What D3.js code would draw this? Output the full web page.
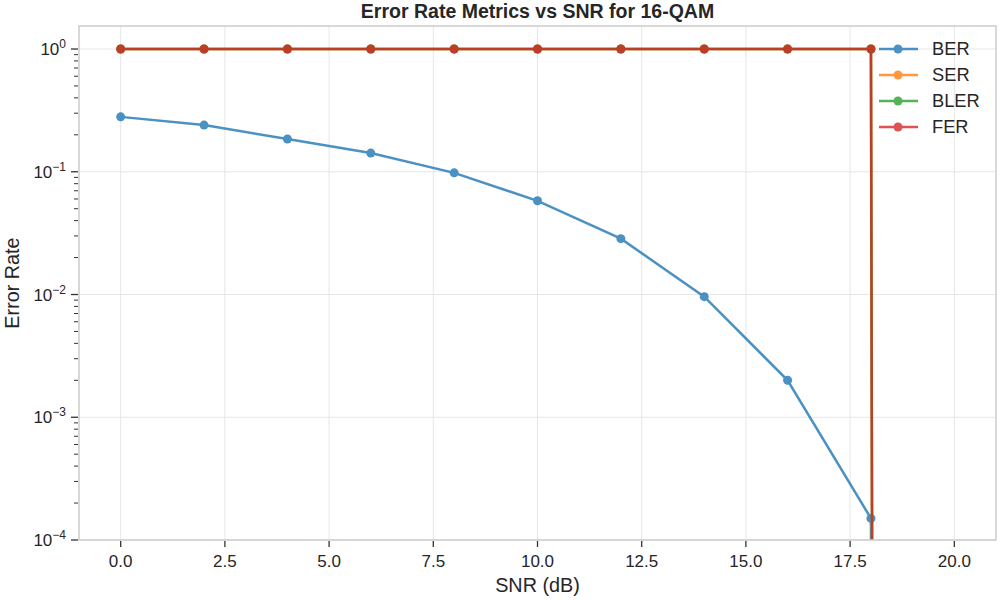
<!DOCTYPE html>
<html><head><meta charset="utf-8">
<script src="https://cdn.jsdelivr.net/npm/d3@7"></script>
<style>body{margin:0;background:#fff;} text{font-family:"Liberation Sans",Arial,sans-serif;}</style>
</head><body><svg id="c" width="1000" height="600"></svg>
<script>
const snr = [0, 2, 4, 6, 8, 10, 12, 14, 16, 18, 20];
const ber = [0.28, 0.24, 0.185, 0.142, 0.098, 0.058, 0.0285, 0.0096, 0.002, 0.00015, 0];
const ser = [1, 1, 1, 1, 1, 1, 1, 1, 1, 1, 0];
const bler = [1, 1, 1, 1, 1, 1, 1, 1, 1, 1, 0];
const fer = [1, 1, 1, 1, 1, 1, 1, 1, 1, 1, 0];
const seriesNames = ["BER", "SER", "BLER", "FER"];
const seriesColors = ["#1f77b4", "#ff7f0e", "#2ca02c", "#d62728"];
const xTicks = [0, 2.5, 5, 7.5, 10, 12.5, 15, 17.5, 20];
const yTicks = [-4, -3, -2, -1, 0];

const svg = d3.select("#c");
const L = 79, R = 996, T = 26, B = 540;
const x = d3.scaleLinear().domain([-1, 21]).range([L, R]);
const y = d3.scaleLog().domain([1e-4, Math.pow(10, 0.1875)]).range([B, T]);
const yv = v => y(v > 0 ? v : 1e-300);

svg.append("defs").append("clipPath").attr("id", "clip")
  .append("rect").attr("x", L).attr("y", T).attr("width", R - L).attr("height", B - T);

// grid
const g = svg.append("g");
xTicks.forEach(t => g.append("line").attr("x1", x(t)).attr("x2", x(t)).attr("y1", T).attr("y2", B)
  .attr("stroke", "#e6e6e6").attr("stroke-width", 1));
yTicks.forEach(e => g.append("line").attr("x1", L).attr("x2", R).attr("y1", y(Math.pow(10, e))).attr("y2", y(Math.pow(10, e)))
  .attr("stroke", "#e6e6e6").attr("stroke-width", 1));

// series
const data = [ber, ser, bler, fer];
const plot = svg.append("g").attr("clip-path", "url(#clip)");
data.forEach((vals, i) => {
  const pts = snr.map((s, j) => [s, vals[j]]);
  const line = d3.line().x(d => x(d[0])).y(d => yv(d[1]));
  const sg = plot.append("g").attr("opacity", 0.8);
  sg.append("path").attr("d", line(pts)).attr("fill", "none").attr("stroke", seriesColors[i]).attr("stroke-width", 2.5);
  sg.selectAll("circle").data(pts.filter(d => d[1] > 0)).enter().append("circle")
    .attr("cx", d => x(d[0])).attr("cy", d => yv(d[1])).attr("r", 4.5).attr("fill", seriesColors[i]);
});

// frame
svg.append("rect").attr("x", L).attr("y", T).attr("width", R - L).attr("height", B - T)
  .attr("fill", "none").attr("stroke", "#cccccc").attr("stroke-width", 1.5);

// x axis
const xa = svg.append("g");
xTicks.forEach(t => {
  xa.append("line").attr("x1", x(t)).attr("x2", x(t)).attr("y1", B + 1).attr("y2", B + 7).attr("stroke", "#333").attr("stroke-width", 1.3);
  xa.append("text").attr("x", x(t)).attr("y", B + 27).attr("text-anchor", "middle").attr("font-size", 17).attr("fill", "#262626").text(t.toFixed(1));
});
svg.append("text").attr("x", (L + R) / 2).attr("y", 592).attr("text-anchor", "middle").attr("font-size", 19.8).attr("fill", "#262626").text("SNR (dB)");

// y axis
const ya = svg.append("g");
yTicks.forEach(e => {
  const yy = y(Math.pow(10, e));
  ya.append("line").attr("x1", L - 1).attr("x2", L - 8).attr("y1", yy).attr("y2", yy).attr("stroke", "#333").attr("stroke-width", 1.3);
  const t = ya.append("text").attr("x", L - 13).attr("y", yy + 6).attr("text-anchor", "end").attr("font-size", 17).attr("fill", "#262626");
  t.append("tspan").text("10");
  t.append("tspan").attr("dy", -7).attr("font-size", 12).text(e < 0 ? "\u2212" + (-e) : "" + e);
});
for (let e = -4; e <= 0; e++) {
  for (let m = 2; m <= 9; m++) {
    const v = m * Math.pow(10, e);
    if (v > y.domain()[1]) continue;
    const yy = y(v);
    ya.append("line").attr("x1", L - 1).attr("x2", L - 5).attr("y1", yy).attr("y2", yy).attr("stroke", "#333").attr("stroke-width", 1);
  }
}
svg.append("text").attr("transform", `translate(19,${(T + B) / 2}) rotate(-90)`).attr("text-anchor", "middle")
  .attr("font-size", 19.8).attr("fill", "#262626").text("Error Rate");

// title
svg.append("text").attr("x", (L + R) / 2).attr("y", 18).attr("text-anchor", "middle").attr("font-size", 19.5)
  .attr("font-weight", "bold").attr("fill", "#262626").text("Error Rate Metrics vs SNR for 16-QAM");

// legend
const lg = svg.append("g");
seriesNames.forEach((n, i) => {
  const yy = 49 + i * 26;
  const it = lg.append("g").attr("opacity", 0.8);
  it.append("line").attr("x1", 879).attr("x2", 918).attr("y1", yy).attr("y2", yy).attr("stroke", seriesColors[i]).attr("stroke-width", 2.5);
  it.append("circle").attr("cx", 898).attr("cy", yy).attr("r", 4.5).attr("fill", seriesColors[i]);
  lg.append("text").attr("x", 932).attr("y", yy + 6).attr("font-size", 18.3).attr("fill", "#262626").text(n);
});
</script></body></html>
